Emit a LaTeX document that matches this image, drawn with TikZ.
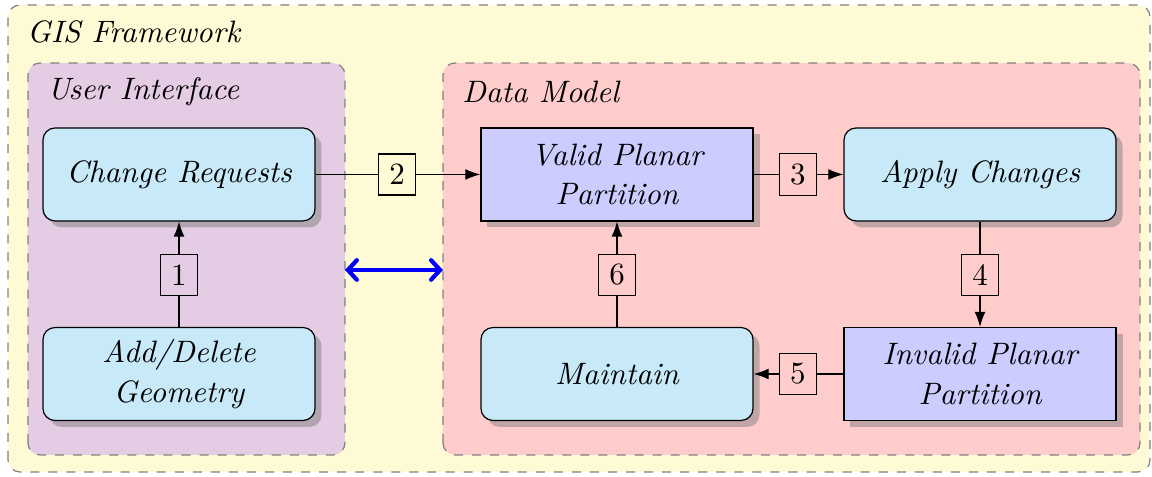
\documentclass[tikz,border=0pt]{standalone}
\usepackage{xcolor}
\definecolor{frameColor}{RGB}{255,250,214}
\definecolor{uiColor}{RGB}{229,204,229}
\definecolor{modelColor}{RGB}{255,204,204}
\definecolor{stepColor}{RGB}{199,233,248}
\definecolor{stateColor}{RGB}{204,204,255}
\usepackage{tikz}
\usetikzlibrary{shadows,arrows.meta}

\begin{document}
\begin{tikzpicture}[font=\fontsize{10.3}{13.2}\selectfont\itshape,
  >={Latex[length=5pt,width=3.6pt]},
  group/.style={draw=gray,dashed,rounded corners},
  title/.style={anchor=base west,inner sep=0pt},
  roundbox/.style={draw,fill=stepColor,rounded corners,drop shadow,
    minimum width=3.178cm,minimum height=1.086cm,align=center},
  squarebox/.style={roundbox,sharp corners,fill=stateColor},
  numbox/.style={draw,font=\fontsize{10.3}{13.2}\selectfont\upshape,
    minimum width=0.432cm,minimum height=0.479cm}]
\useasboundingbox (0,0) rectangle (13.458,5.572);
%
\draw[group,fill=frameColor] (0.093,0.058) rectangle (13.435,5.514);
\draw[group,fill=uiColor] (0.327,0.257) rectangle (4.030,4.836);
\draw[group,fill=modelColor] (5.175,0.257) rectangle (13.318,4.836);
\node[title] (gis) at (0.310,5.070) {GIS Framework};
\node[title] (ui) at (0.545,4.404) {User Interface};
\node[title] (dm) at (5.395,4.369) {Data Model};
%
\node[roundbox] (request) at (2.091,3.534) {Change Requests};
\node[roundbox] (edit) at (2.091,1.203) {Add/Delete\\Geometry};
\node[squarebox] (valid) at (7.208,3.534) {Valid Planar\\Partition};
\node[roundbox] (apply) at (11.449,3.534) {Apply Changes};
\node[roundbox] (maintain) at (7.208,1.203) {Maintain};
\node[squarebox] (invalid) at (11.449,1.203) {Invalid Planar\\Partition};
%
\node[numbox] (n1) at (2.091,2.360) {1};
\node[numbox] (n2) at (4.638,3.534) {2};
\node[numbox] (n3) at (9.322,3.534) {3};
\node[numbox] (n4) at (11.449,2.360) {4};
\node[numbox] (n5) at (9.322,1.203) {5};
\node[numbox] (n6) at (7.208,2.360) {6};
%
\draw (edit) -- (n1);
\draw[->] (n1) -- (request);
\draw (request) -- (n2);
\draw[->] (n2) -- (valid);
\draw (valid) -- (n3);
\draw[->] (n3) -- (apply);
\draw (apply) -- (n4);
\draw[->] (n4) -- (invalid);
\draw (invalid) -- (n5);
\draw[->] (n5) -- (maintain);
\draw (maintain) -- (n6);
\draw[->] (n6) -- (valid);
%
\coordinate (uiEdge) at (4.030,2.418);
\coordinate (dmEdge) at (5.175,2.418);
\draw[{Straight Barb[length=3pt,width=6.5pt,line cap=round]}-{Straight Barb[length=3pt,width=6.5pt,line cap=round]},
  blue,line width=1.4pt] (uiEdge) -- (dmEdge);
\end{tikzpicture}
\end{document}
